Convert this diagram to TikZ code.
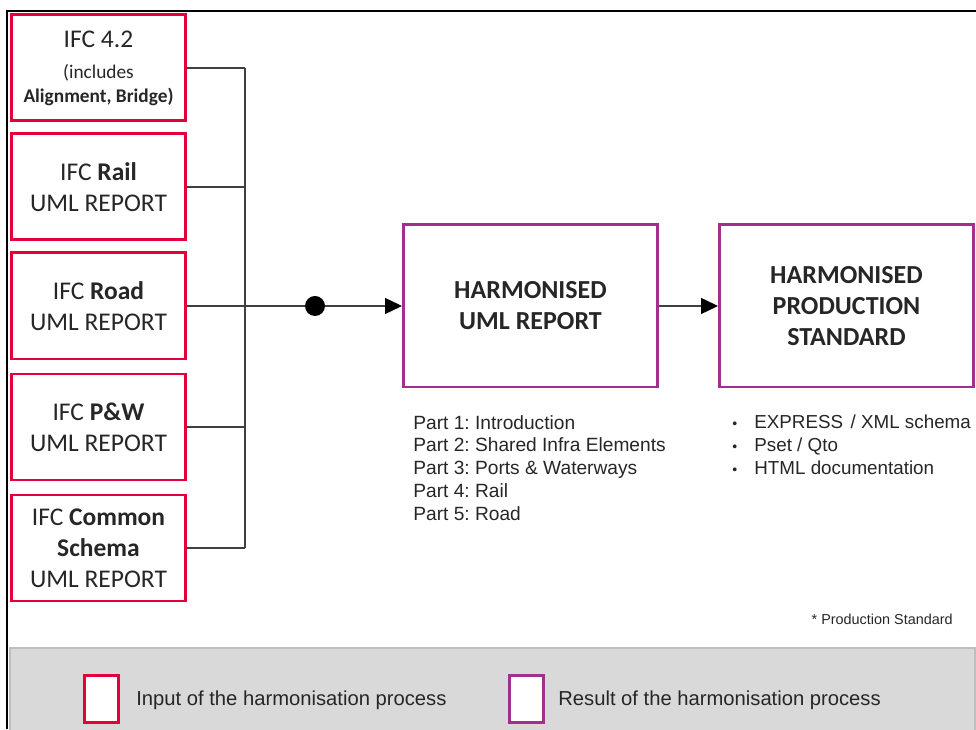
\documentclass[tikz,border=0pt]{standalone}
\usepackage{fontspec}
\setmainfont{Carlito}
\newfontfamily\arialfont{Liberation Sans}
\usepackage{tikz}
\usetikzlibrary{arrows.meta}

\definecolor{ifcred}{RGB}{228,0,58}
\definecolor{harmpurple}{RGB}{160,48,140}
\definecolor{wiregray}{RGB}{64,64,64}
\definecolor{bandgray}{RGB}{217,217,217}
\definecolor{bandline}{RGB}{190,190,190}
\definecolor{inktext}{RGB}{38,38,38}

\newcommand{\bitem}{\makebox[0.44cm][l]{\fontsize{8}{8}\selectfont\textbullet}}
\frenchspacing

\tikzset{
	inbox/.style={draw=ifcred, line width=1.7pt, minimum width=3.48cm, minimum height=2.12cm, inner sep=0pt, align=center, text=inktext, font=\fontsize{14.5}{17.6}\selectfont},
	outbox/.style={draw=harmpurple, line width=1.7pt, minimum width=5.08cm, minimum height=3.24cm, inner sep=0pt, align=center, text=inktext, font=\fontsize{14.8}{17.6}\selectfont\bfseries},
	wire/.style={draw=wiregray, line width=0.8pt},
	tip/.style={-{Triangle[length=0.34cm, width=0.32cm, color=black]}},
	keybox/.style={draw=#1, fill=white, line width=1.7pt, minimum width=0.68cm, minimum height=0.94cm, inner sep=0pt},
	plain/.style={inner sep=0pt, text=inktext, align=left}
}

\begin{document}
\begin{tikzpicture}
			\useasboundingbox (0,0) rectangle (19.52,14.58);
			% frame and legend band
			\draw[line width=1.4pt] (0.14,0) -- (0.14,14.36) -- (19.52,14.36);
			\draw[draw=bandline, fill=bandgray, line width=0.8pt] (0.2,-0.1) rectangle (19.5,1.62);
			
			% inputs
			\node (ifc42) [inbox] at (1.97,13.22) {IFC 4.2\\[0.2pt]{\fontsize{11}{13}\selectfont (includes}\\[-4pt]{\fontsize{11}{13}\selectfont\bfseries Alignment, Bridge)}};
			\node (rail) [inbox] at (1.97,10.84) {IFC \textbf{Rail}\\UML REPORT};
			\node (road) [inbox] at (1.97,8.46) {IFC \textbf{Road}\\UML REPORT};
			\node (pw) [inbox] at (1.97,6.04) {IFC \textbf{P\&W}\\UML REPORT};
			\node (common) [inbox] at (1.97,3.62) {IFC \textbf{Common}\\\textbf{Schema}\\UML REPORT};
			
			% results
			\node (harm) [outbox] at (10.61,8.46) {HARMONISED\\UML REPORT};
			\node (prod) [outbox] at (16.93,8.46) {HARMONISED\\PRODUCTION\\STANDARD};
			
			\coordinate (bus) at (4.90,8.46);
			\node (hub) [circle, fill=black, minimum size=0.4cm, inner sep=0pt] at (6.30,8.46) {};
			
			\draw[wire] (ifc42.east) -- (ifc42.east -| bus);
			\draw[wire] (rail.east) -- (rail.east -| bus);
			\draw[wire] (pw.east) -- (pw.east -| bus);
			\draw[wire] (common.east) -- (common.east -| bus);
			\draw[wire] (ifc42.east -| bus) -- (common.east -| bus);
			\draw[wire] (road.east) -- (hub);
			\draw[wire, tip] (hub) -- (harm.west);
			\draw[wire, tip] (harm.east) -- (prod.west);
			
			% notes
			\node (parts) [plain, anchor=north west, font=\arialfont\fontsize{10.9}{12.95}\selectfont] at (8.26,6.28) {Part 1: Introduction\\Part 2: Shared Infra Elements\\Part 3: Ports \& Waterways\\Part 4: Rail\\Part 5: Road};
			\node (deliv) [plain, anchor=north west, font=\arialfont\fontsize{10.7}{12.95}\selectfont] at (14.64,6.28) {\bitem EXPRESS\hspace{0.12em} / XML schema\\\bitem Pset / Qto\\\bitem HTML documentation};
			\node (footnote) [plain, anchor=east, font=\arialfont\fontsize{8.2}{10}\selectfont] at (19.06,2.20) {* Production Standard};
			
			% legend
			\node (keyin) [keybox=ifcred] at (2.03,0.60) {};
			\node (keyout) [keybox=harmpurple] at (10.53,0.60) {};
			\node (keyintext) [plain, anchor=west, font=\arialfont\fontsize{11.5}{13}\selectfont] at (2.72,0.58) {Input of the harmonisation process};
			\node (keyouttext) [plain, anchor=west, font=\arialfont\fontsize{11.5}{13}\selectfont] at (11.16,0.58) {Result of the harmonisation process};
		\end{tikzpicture}
\end{document}
